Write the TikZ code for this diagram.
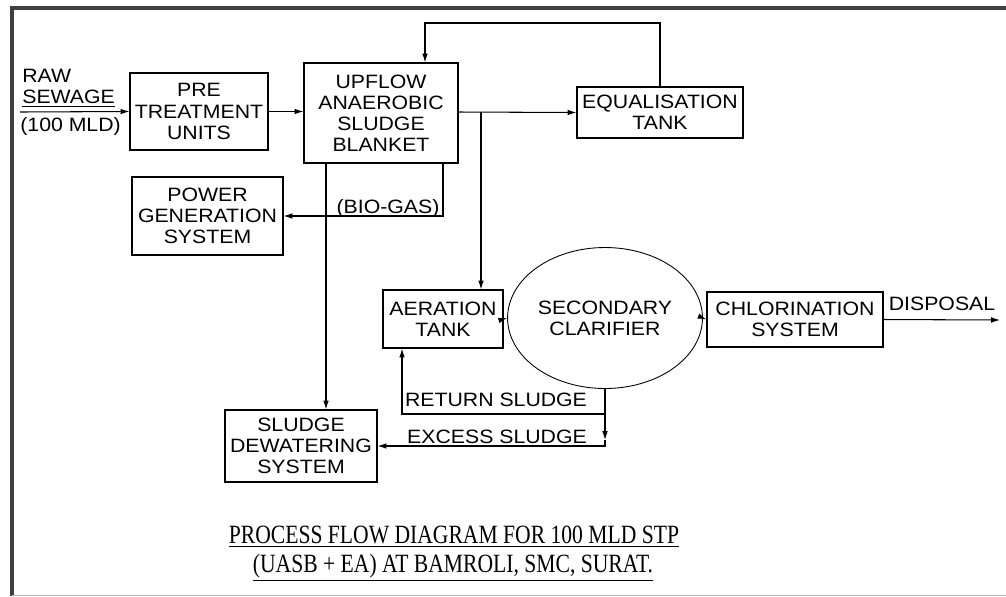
\documentclass[tikz,border=0pt]{standalone}
\usepackage{fontspec}
\setmainfont{Liberation Serif}
\setsansfont{Liberation Sans}[FakeStretch=1.1]
\usetikzlibrary{calc,positioning,arrows.meta,shapes.geometric}

\begin{document}
\begin{tikzpicture}[
  x=0.02cm, y=-0.02cm,
  font=\sffamily\fontsize{11}{12}\selectfont,
  box/.style={draw, line width=0.7pt, align=center, inner sep=1pt},
  lbl/.style={inner sep=0pt, align=left},
  flow/.style={line width=0.6pt, -{Latex[length=5pt,width=3.2pt]}},
  pipe/.style={line width=0.6pt},
  ttl/.style={inner sep=0pt, font=\rmfamily\fontsize{15}{17}\selectfont, xscale=0.82, transform shape},
  >=latex
]
\useasboundingbox (0,0) rectangle (1006,596);
% frame
\draw[line width=1.8pt, black!75] (12,596) -- (12,8) -- (1006,8);
\draw[line width=0.5pt, black!30] (12,595) -- (1006,595);

% units
\node[box, minimum width=2.76cm, minimum height=1.54cm] (pre) at (199,111.5) {PRE\\TREATMENT\\UNITS};
\node[box, minimum width=3.08cm, minimum height=2.0cm] (uasb) at (381,113) {UPFLOW\\ANAEROBIC\\SLUDGE\\BLANKET};
\node[box, minimum width=3.32cm, minimum height=1.02cm] (equal) at (660,112.5) {EQUALISATION\\TANK};
\node[box, minimum width=3.02cm, minimum height=1.56cm] (power) at (207.5,216) {POWER\\GENERATION\\SYSTEM};
\node[box, minimum width=2.4cm, minimum height=1.16cm] (aer) at (443,319) {AERATION\\TANK};
\node[box, ellipse, line width=0.5pt, minimum width=2.52cm, minimum height=2.82cm] (clar) at (605,318) {SECONDARY\\CLARIFIER};
\node[box, minimum width=3.52cm, minimum height=1.1cm] (chlor) at (795,319.5) {CHLORINATION\\SYSTEM};
\node[box, minimum width=3.04cm, minimum height=1.44cm] (sludge) at (301,446) {SLUDGE\\DEWATERING\\SYSTEM};

% free ends and bends
\coordinate (rawin) at (20,112);
\coordinate (br) at (481,112);
\coordinate (fb) at (425,23);
\coordinate (gas) at (443,163);
\coordinate (down) at (326,163);
\coordinate (ret) at (605,414);
\coordinate (retx) at (402,414);
\coordinate (exc) at (605,440);
\coordinate (disp) at (1000,320);

% labels
\node[lbl, anchor=south west] (raw) at (22,108) {RAW\\\underline{SEWAGE}};
\node[lbl, anchor=north west] (mld) at (20,117) {(100 MLD)};
\node[lbl] (biogas) at (388,208) {(BIO-GAS)};
\node[lbl] (retlbl) at (496,400) {RETURN SLUDGE};
\node[lbl] (exclbl) at (497,437) {EXCESS SLUDGE};
\node[lbl] (displbl) at (942,304) {DISPOSAL};

% connectors
\draw[flow] (rawin) -- (pre.west);
\draw[flow] (pre.east) -- (uasb.west |- pre.east);
\draw[flow] (uasb.east |- br) -- (equal.west);
\draw[flow] (br) -- (br |- aer.north);
\draw[flow] (equal.north) |- (fb) -- (fb |- uasb.north);
\draw[flow] (gas) |- (power.east);
\draw[flow] (down) -- (down |- sludge.north);
\draw[flow] (aer.east) -- (clar.west);
\draw[flow] (clar.east) -- (chlor.west);
\draw[flow] (chlor.east) -- (disp);
\draw[flow] (clar.south) -- (ret) -- (retx) -- (retx |- aer.south);
\draw[flow] (ret) -- (exc);
\draw[flow] (exc) |- (sludge.east);

% title
\node[ttl] (title1) at (454,537) {\underline{PROCESS FLOW DIAGRAM FOR 100 MLD STP}};
\node[ttl] (title2) at (453,568) {\underline{(UASB + EA) AT BAMROLI, SMC, SURAT.}};
\end{tikzpicture}
\end{document}
